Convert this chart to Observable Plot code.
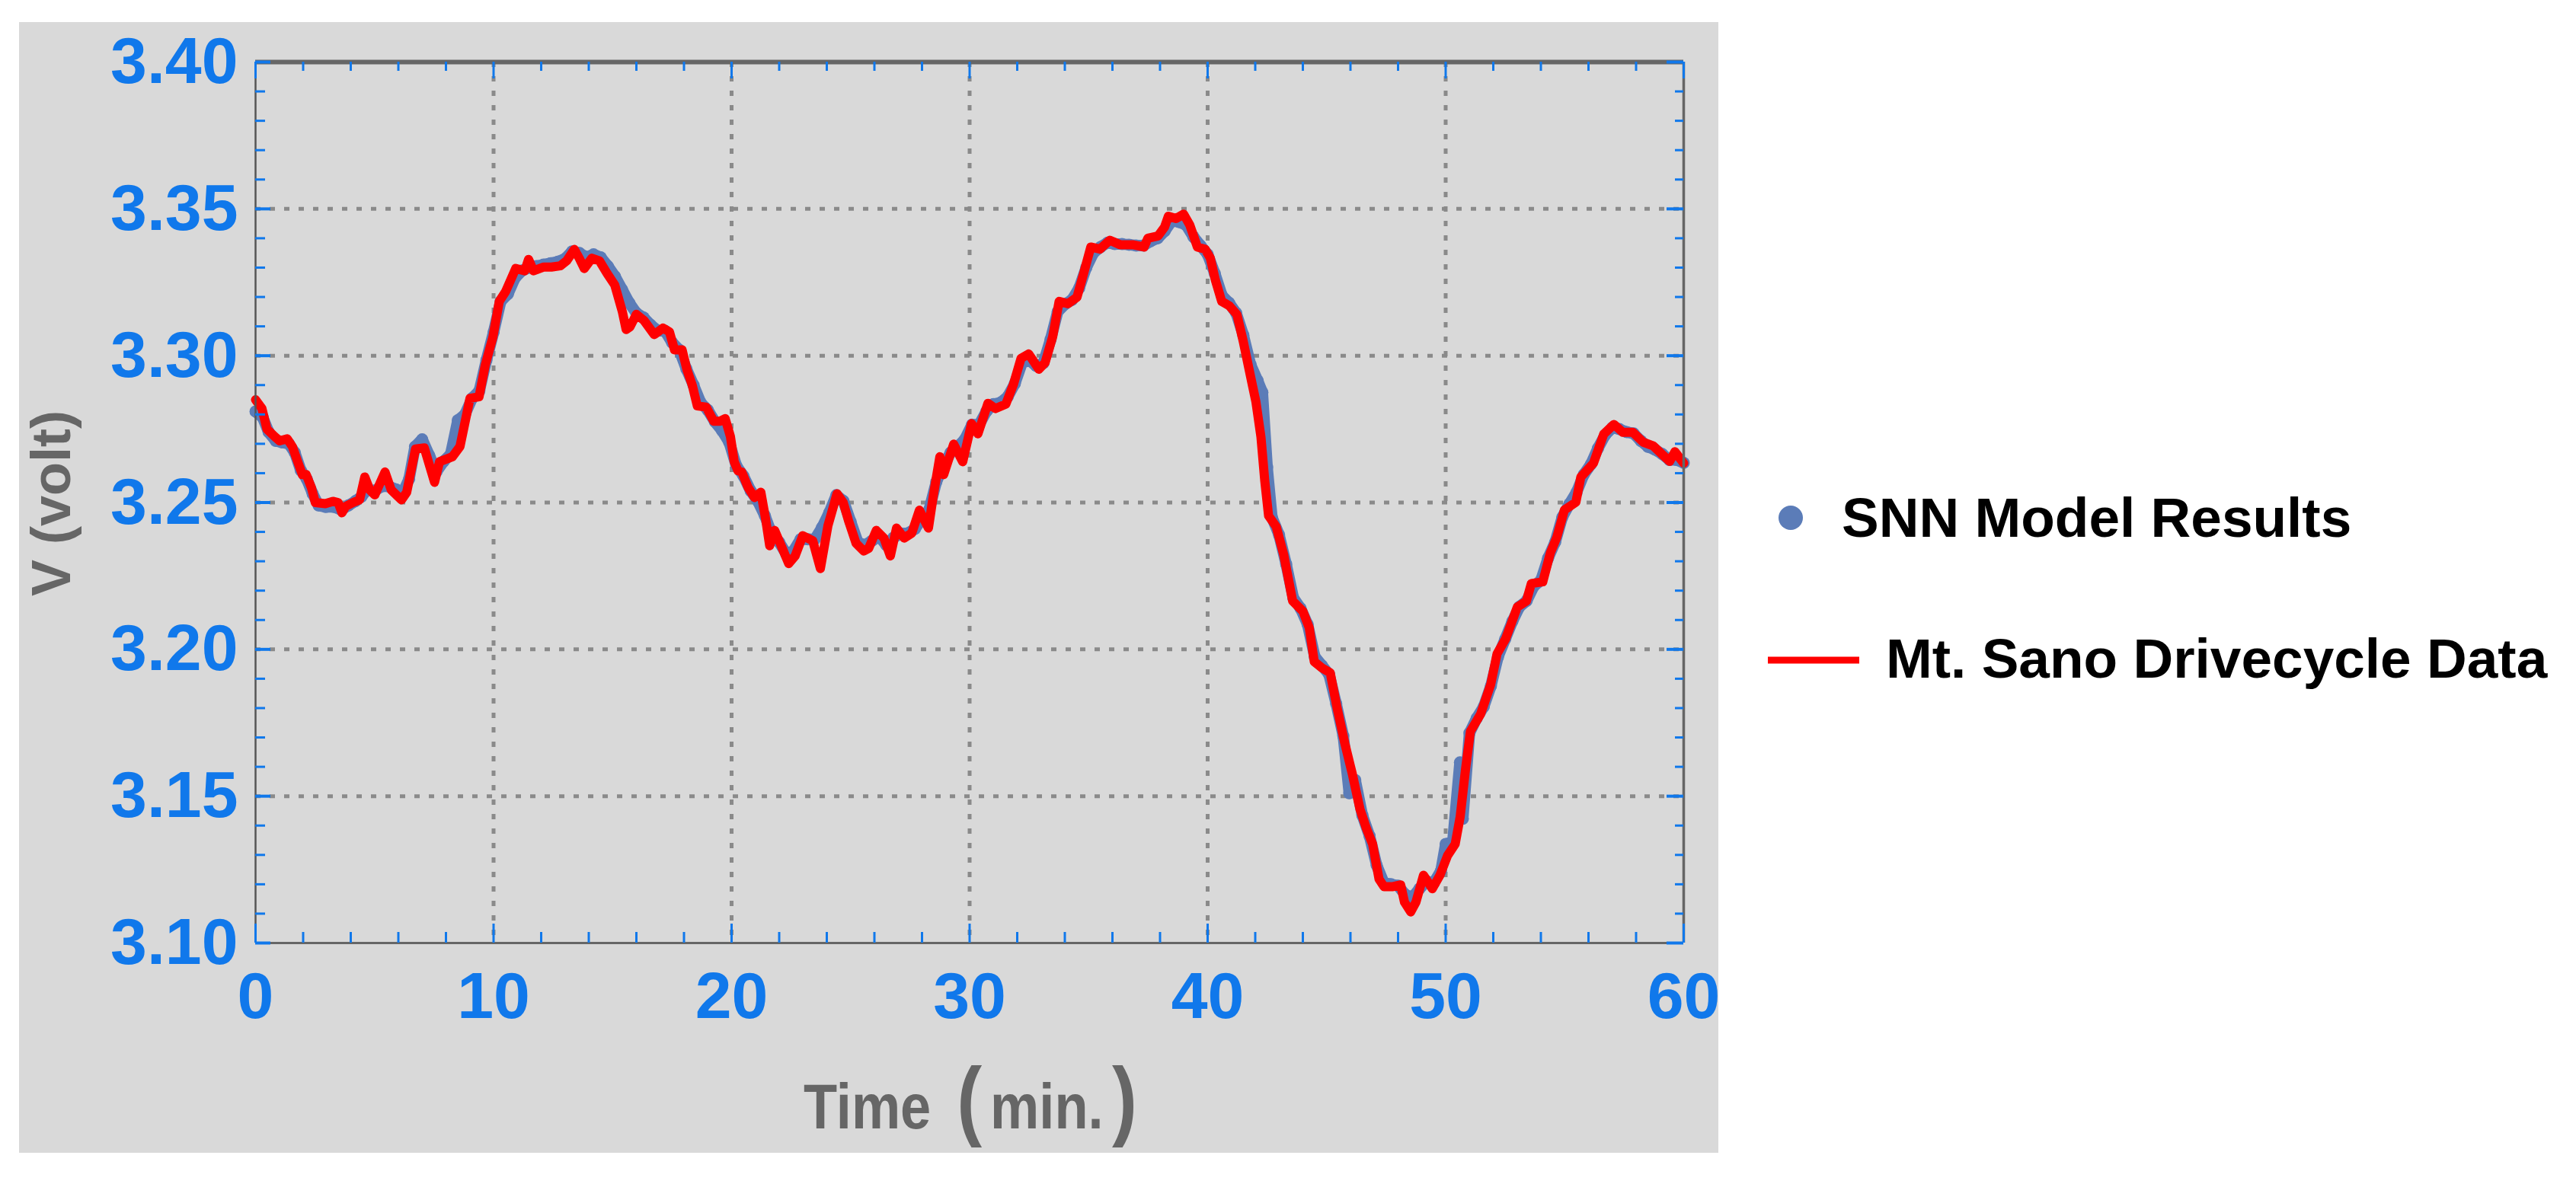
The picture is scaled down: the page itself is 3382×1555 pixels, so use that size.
<!DOCTYPE html>
<html>
<head>
<meta charset="utf-8">
<script src="https://cdn.jsdelivr.net/npm/d3@7"></script>
<script src="https://cdn.jsdelivr.net/npm/@observablehq/plot@0.6"></script>
<style>
html, body { margin: 0; padding: 0; background: #ffffff; }
#chart { width: 3382px; height: 1555px; }
</style>
</head>
<body>
<div id="chart"></div>
<script>
// ---- Data ----
const driveTime = [0,0.27,0.48,0.8,1.01,1.33,1.55,1.81,1.97,2.13,2.35,2.51,2.93,3.25,3.47,3.63,3.79,4.1,4.37,4.59,4.8,5.01,5.44,5.7,6.13,6.35,6.72,7.09,7.52,7.73,8.27,8.59,9.01,9.39,9.65,9.97,10.24,10.51,10.93,11.31,11.47,11.68,12.11,12.43,12.8,13.07,13.39,13.6,13.81,14.13,14.45,14.77,15.09,15.41,15.57,15.73,16.0,16.32,16.75,17.12,17.39,17.6,17.92,18.13,18.35,18.56,18.93,19.25,19.52,19.73,19.95,20.11,20.27,20.43,20.69,20.96,21.23,21.44,21.6,21.81,22.13,22.4,22.67,22.99,23.41,23.73,24.05,24.43,24.69,24.91,25.23,25.55,25.76,26.08,26.4,26.67,26.93,27.25,27.57,27.89,28.27,28.48,28.75,28.91,29.33,29.71,30.08,30.35,30.77,31.09,31.52,31.84,32.16,32.48,32.91,33.17,33.49,33.76,34.13,34.51,34.77,35.09,35.47,35.89,36.32,36.85,37.33,37.49,37.92,38.19,38.35,38.67,38.99,39.25,39.57,39.89,40.11,40.32,40.59,40.91,41.23,41.49,41.76,42.03,42.24,42.4,42.56,42.88,43.2,43.57,44.0,44.27,44.48,44.8,45.15,45.44,45.76,46.08,46.4,46.67,46.93,47.2,47.41,47.79,48.11,48.27,48.53,48.75,49.07,49.44,49.76,50.08,50.4,50.61,50.83,51.04,51.47,51.89,52.16,52.53,53.01,53.39,53.6,54.08,54.4,54.67,54.99,55.47,55.68,56.21,56.64,57.07,57.44,57.87,58.29,58.72,59.15,59.41,59.63,60.0];
const driveVolt = [3.285,3.282,3.275,3.2725,3.271,3.2717,3.269,3.263,3.2595,3.2595,3.255,3.250,3.2496,3.2504,3.250,3.2465,3.2487,3.250,3.2509,3.2587,3.2543,3.2526,3.2604,3.2543,3.2509,3.2535,3.2682,3.2686,3.2569,3.2639,3.2656,3.2691,3.2855,3.286,3.2968,3.3063,3.3185,3.3219,3.3297,3.3289,3.3328,3.3289,3.3302,3.3302,3.3306,3.3323,3.3362,3.3332,3.3297,3.3332,3.3323,3.328,3.3241,3.315,3.3089,3.3098,3.3141,3.312,3.3072,3.3094,3.3081,3.302,3.302,3.2951,3.2899,3.2829,3.2825,3.2777,3.2777,3.2786,3.2725,3.2639,3.2608,3.2604,3.2552,3.2517,3.2535,3.2439,3.2353,3.2405,3.2344,3.2292,3.2318,3.2387,3.237,3.2275,3.2422,3.253,3.250,3.2439,3.2361,3.2335,3.2344,3.2405,3.2379,3.2318,3.2413,3.2379,3.2396,3.2474,3.2413,3.2526,3.2656,3.2595,3.2699,3.2639,3.2769,3.2734,3.2838,3.282,3.2835,3.2902,3.2991,3.3006,3.2954,3.2976,3.3065,3.3185,3.3177,3.3199,3.3274,3.337,3.3363,3.3393,3.3378,3.3378,3.337,3.340,3.3408,3.3438,3.3475,3.3467,3.3482,3.3445,3.337,3.3363,3.3333,3.3259,3.3185,3.317,3.314,3.3051,3.2946,3.2842,3.2723,3.2574,3.2455,3.2418,3.2321,3.2165,3.213,3.2073,3.1958,3.1937,3.192,3.18,3.1681,3.1575,3.1456,3.139,3.1337,3.1218,3.1192,3.1192,3.1198,3.1139,3.1106,3.1139,3.1231,3.1185,3.1231,3.1298,3.1337,3.143,3.1589,3.1721,3.178,3.188,3.1985,3.2038,3.2144,3.2164,3.2224,3.223,3.2329,3.2382,3.2475,3.2501,3.2587,3.2634,3.2733,3.2766,3.2739,3.2739,3.2706,3.2693,3.266,3.264,3.2673,3.2634];

const snnTime = [0,0.3,0.55,0.85,1.1,1.4,1.65,1.9,2.15,2.4,2.65,2.95,3.3,3.6,3.9,4.2,4.45,4.7,5.0,5.3,5.6,5.9,6.2,6.45,6.7,7.0,7.3,7.6,7.9,8.2,8.5,8.8,9.1,9.4,9.7,10.0,10.3,10.6,10.9,11.2,11.5,11.8,12.1,12.4,12.7,13.0,13.3,13.6,13.9,14.2,14.5,14.8,15.1,15.4,15.7,16.0,16.3,16.6,16.9,17.2,17.5,17.8,18.1,18.4,18.7,19.0,19.3,19.6,19.9,20.2,20.5,20.8,21.1,21.4,21.7,22.0,22.3,22.6,22.9,23.2,23.5,23.8,24.1,24.4,24.7,25.0,25.3,25.6,25.9,26.2,26.5,26.8,27.1,27.4,27.7,28.0,28.3,28.6,28.9,29.2,29.5,29.8,30.1,30.4,30.7,31.0,31.3,31.6,31.9,32.2,32.5,32.8,33.1,33.4,33.7,34.0,34.3,34.6,34.9,35.2,35.5,35.8,36.1,36.4,36.7,37.0,37.3,37.6,37.9,38.2,38.5,38.8,39.1,39.4,39.7,40.0,40.3,40.6,40.9,41.2,41.5,41.8,42.1,42.3,42.5,42.7,43.0,43.3,43.6,43.9,44.2,44.5,44.8,45.1,45.4,45.7,45.95,46.2,46.5,46.8,47.1,47.4,47.7,48.0,48.3,48.6,48.9,49.2,49.5,49.8,50.0,50.3,50.6,50.72,51.0,51.3,51.6,51.9,52.2,52.5,52.8,53.1,53.4,53.7,54.0,54.3,54.6,54.9,55.2,55.5,55.8,56.1,56.4,56.7,57.0,57.3,57.6,57.9,58.2,58.5,58.8,59.1,59.4,59.7,60.0];
const snnVolt = [3.281,3.279,3.274,3.271,3.2705,3.270,3.267,3.261,3.258,3.253,3.249,3.2485,3.2485,3.2475,3.249,3.2505,3.252,3.2545,3.254,3.2555,3.2555,3.2545,3.2535,3.258,3.269,3.2715,3.266,3.2605,3.264,3.2665,3.278,3.280,3.2855,3.288,3.2985,3.308,3.3185,3.321,3.3265,3.329,3.330,3.3305,3.331,3.3315,3.332,3.333,3.3355,3.335,3.3335,3.3345,3.3335,3.3305,3.327,3.3225,3.318,3.3145,3.313,3.3105,3.3085,3.3085,3.3045,3.302,3.2955,3.290,3.284,3.2815,3.2775,3.2745,3.2705,3.2625,3.259,3.254,3.2505,3.2455,3.239,3.2365,3.2325,3.2335,3.2375,3.2375,3.2375,3.2415,3.2465,3.2525,3.2505,3.2435,3.2365,3.2355,3.237,3.2385,3.2355,3.238,3.2395,3.2395,3.241,3.2445,3.2475,3.257,3.2625,3.267,3.269,3.2715,3.2765,3.2765,3.281,3.2835,3.284,3.286,3.2905,3.2975,3.2985,3.2965,3.2975,3.3055,3.315,3.3175,3.319,3.323,3.330,3.335,3.337,3.3385,3.338,3.338,3.3378,3.3375,3.3375,3.339,3.340,3.3425,3.346,3.3455,3.3445,3.3405,3.3375,3.3345,3.328,3.3205,3.318,3.3145,3.307,3.297,3.2915,3.2875,3.262,3.245,3.239,3.229,3.2175,3.214,3.2085,3.1975,3.1945,3.1915,3.1815,3.1705,3.151,3.1555,3.1435,3.1365,3.1265,3.1205,3.120,3.1195,3.1165,3.1155,3.1185,3.121,3.1205,3.1245,3.1337,3.1345,3.1615,3.1423,3.1715,3.1765,3.1805,3.1875,3.1975,3.2035,3.2095,3.2145,3.2165,3.2215,3.2235,3.231,3.2365,3.245,3.2495,3.2535,3.2595,3.263,3.2685,3.273,3.2755,3.275,3.274,3.2735,3.271,3.269,3.268,3.2665,3.2645,3.2645,3.2635];

// ---- Axis ticks and labels ----
const yMajorTicks = [3.10, 3.15, 3.20, 3.25, 3.30, 3.35, 3.40];
const yTickLabels = ["3.10", "3.15", "3.20", "3.25", "3.30", "3.35", "3.40"];
const yMinorTicks = [3.11,3.12,3.13,3.14,3.16,3.17,3.18,3.19,3.21,3.22,3.23,3.24,3.26,3.27,3.28,3.29,3.31,3.32,3.33,3.34,3.36,3.37,3.38,3.39];
const xMajorTicks = [0, 10, 20, 30, 40, 50, 60];
const xTickLabels = ["0", "10", "20", "30", "40", "50", "60"];
const xMinorTicks = [2,4,6,8,12,14,16,18,22,24,26,28,32,34,36,38,42,44,46,48,52,54,56,58];
const xGrid = [10, 20, 30, 40, 50];
const yGrid = [3.15, 3.20, 3.25, 3.30, 3.35];

const seriesNames = ["SNN Model Results", "Mt. Sano Drivecycle Data"];
const xTitleParts = ["Time", "(", "min.", ")"];
const yTitle = "V (volt)";

// ---- Layout ----
const W = 3382, H = 1555;
const mL = 335, mR = 1172, mT = 81, mB = 317;
const plotW = W - mL - mR, plotH = H - mT - mB;
const tickBlue = "#1078eb";
const snnColor = "#5b7cb8";
const driveColor = "#ff0000";
const font = "'Liberation Sans', Arial, Helvetica, sans-serif";

const drive = driveTime.map((t, i) => ({t, v: driveVolt[i]}));
const snn = snnTime.map((t, i) => ({t, v: snnVolt[i]}));

const chart = Plot.plot({
  width: W,
  height: H,
  marginLeft: mL,
  marginRight: mR,
  marginTop: mT,
  marginBottom: mB,
  style: {background: "none", fontFamily: font, overflow: "visible"},
  x: {domain: [0, 60], axis: null},
  y: {domain: [3.10, 3.40], axis: null},
  marks: [
    // dotted grid
    Plot.ruleX(xGrid, {x: d => d, stroke: "#8a8a8a", strokeWidth: 5, strokeDasharray: "7,12"}),
    Plot.ruleY(yGrid, {y: d => d, stroke: "#8a8a8a", strokeWidth: 5, strokeDasharray: "7,12"}),
    // SNN model results (dense dots)
    Plot.line(snn, {x: "t", y: "v", stroke: snnColor, strokeWidth: 15}),
    Plot.dot(snn, {x: "t", y: "v", r: 8, fill: snnColor, stroke: "none"}),
    // drive cycle data
    Plot.line(drive, {x: "t", y: "v", stroke: driveColor, strokeWidth: 12}),
    // frame edges
    Plot.ruleX([0], {x: d => d, stroke: "#555", strokeWidth: 2.5}),
    Plot.ruleX([60], {x: d => d, stroke: "#666", strokeWidth: 3.5}),
    Plot.ruleY([3.10], {y: d => d, stroke: "#666", strokeWidth: 3}),
    Plot.ruleY([3.40], {y: d => d, stroke: "#666", strokeWidth: 6}),
    // inward ticks: left
    Plot.tickY(yMinorTicks, {y: d => d, stroke: tickBlue, strokeWidth: 3, insetRight: plotW - 13}),
    Plot.tickY(yMajorTicks, {y: d => d, stroke: tickBlue, strokeWidth: 4, insetRight: plotW - 20}),
    // right
    Plot.tickY(yMinorTicks, {y: d => d, stroke: tickBlue, strokeWidth: 3, insetLeft: plotW - 11}),
    Plot.tickY(yMajorTicks, {y: d => d, stroke: tickBlue, strokeWidth: 4, insetLeft: plotW - 22}),
    // bottom
    Plot.tickX(xMinorTicks, {x: d => d, stroke: tickBlue, strokeWidth: 3, insetTop: plotH - 14}),
    Plot.tickX(xMajorTicks, {x: d => d, stroke: tickBlue, strokeWidth: 3, insetTop: plotH - 25}),
    // top
    Plot.tickX(xMinorTicks, {x: d => d, stroke: tickBlue, strokeWidth: 3, insetBottom: plotH - 12}),
    Plot.tickX(xMajorTicks, {x: d => d, stroke: tickBlue, strokeWidth: 3, insetBottom: plotH - 22}),
    // tick labels
    Plot.axisY(yMajorTicks, {
      anchor: "left", tickSize: 0, tickPadding: 23, label: null,
      tickFormat: d => yTickLabels[yMajorTicks.indexOf(d)],
      fontSize: 86, fontWeight: "bold", fill: tickBlue, fontFamily: font
    }),
    Plot.axisX(xMajorTicks, {
      anchor: "bottom", tickSize: 0, tickPadding: 37, label: null,
      tickFormat: d => xTickLabels[xMajorTicks.indexOf(d)],
      fontSize: 86, fontWeight: "bold", fill: tickBlue, fontFamily: font
    })
  ]
});

document.getElementById("chart").appendChild(chart);

// ---- Decorations: gray panel, axis titles, legend ----
const svg = d3.select(chart);
svg.insert("rect", ":first-child")
  .attr("x", 25).attr("y", 29).attr("width", 2231).attr("height", 1485)
  .attr("fill", "#d9d9d9");

// y title
svg.append("text")
  .attr("transform", "translate(92,661) rotate(-90)")
  .attr("text-anchor", "middle")
  .attr("font-family", font).attr("font-weight", "bold").attr("font-size", 72)
  .attr("fill", "#666666")
  .text(yTitle);

// x title: one text element, parentheses drawn larger
const xt = svg.append("text")
  .attr("transform", "translate(1055,1482) scale(0.86,1)")
  .attr("font-family", font).attr("font-weight", "bold")
  .attr("fill", "#666666").attr("text-anchor", "start");
xt.append("tspan").attr("x", 0).attr("y", 0).attr("font-size", 84).text(xTitleParts[0]);
xt.append("tspan").attr("x", 234).attr("y", 1).attr("font-size", 115).text(xTitleParts[1]);
xt.append("tspan").attr("x", 285).attr("y", 0).attr("font-size", 84).text(xTitleParts[2]);
xt.append("tspan").attr("x", 471).attr("y", 1).attr("font-size", 115).text(xTitleParts[3]);

// legend
const lg = svg.append("g").attr("font-family", font).attr("font-weight", "bold")
  .attr("font-size", 73).attr("fill", "#000").attr("text-anchor", "start");
lg.append("circle").attr("cx", 2351).attr("cy", 680).attr("r", 16).attr("fill", snnColor);
lg.append("text").attr("x", 2418).attr("y", 705).text(seriesNames[0]);
lg.append("line").attr("x1", 2321).attr("x2", 2441).attr("y1", 867).attr("y2", 867)
  .attr("stroke", driveColor).attr("stroke-width", 9);
lg.append("text").attr("x", 2476).attr("y", 890).text(seriesNames[1]);
</script>
</body>
</html>
